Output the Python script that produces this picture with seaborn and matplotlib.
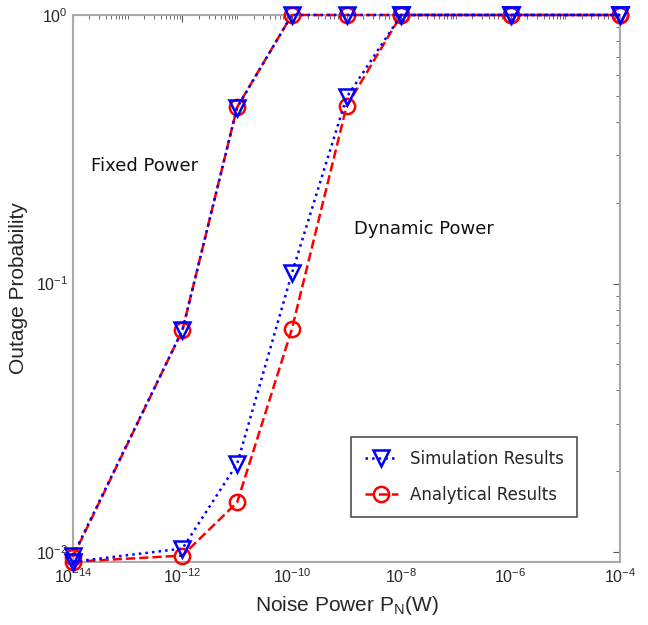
import numpy as np
import pandas as pd
import matplotlib
matplotlib.use("Agg")
import matplotlib.pyplot as plt
import matplotlib.ticker as mticker
from matplotlib.lines import Line2D
import seaborn as sns

# ---- data ----
noise_power = [1e-14, 1e-12, 1e-11, 1e-10, 1e-9, 1e-8, 1e-6, 1e-4]
fixed_sim = [0.0097, 0.067, 0.452, 1.0, 1.0, 1.0, 1.0, 1.0]
fixed_ana = [0.0096, 0.067, 0.454, 1.0, 1.0, 1.0, 1.0, 1.0]
dyn_sim = [0.0092, 0.0103, 0.0213, 0.109, 0.493, 1.0, 1.0, 1.0]
dyn_ana = [0.0092, 0.0097, 0.0153, 0.0675, 0.457, 1.0, 1.0, 1.0]
x_major_ticks = [1e-14, 1e-12, 1e-10, 1e-8, 1e-6, 1e-4]
y_major_ticks = [1e-2, 1e-1, 1e0]

sns.set_style("white")
plt.rcParams['font.family'] = ['Liberation Sans', 'DejaVu Sans']
plt.rcParams['mathtext.default'] = 'regular'
plt.rcParams['axes.unicode_minus'] = False

fig = plt.figure(figsize=(6.48, 6.25), dpi=100)
ax = fig.add_axes([0.1127, 0.1008, 0.8441, 0.8752])

blue = '#0000ff'
red = '#ff0000'
common = dict(ax=ax, linewidth=1.8, markersize=11, markeredgewidth=1.8,
              markerfacecolor='none', legend=False, clip_on=False)

for ys in (fixed_ana, dyn_ana):
    sns.lineplot(x=noise_power, y=ys, color=red, linestyle='--', marker='o',
                 markeredgecolor=red, zorder=3, **common)
for ys in (fixed_sim, dyn_sim):
    sns.lineplot(x=noise_power, y=ys, color=blue, linestyle=':', marker='v',
                 markeredgecolor=blue, zorder=4, **common)

ax.set_xscale('log')
ax.set_yscale('log')
ax.set_xlim(1e-14, 1e-4)
ax.set_ylim(0.00918, 1.0)

ax.xaxis.set_major_locator(mticker.FixedLocator(x_major_ticks))
ax.xaxis.set_minor_locator(mticker.LogLocator(base=10, subs=np.arange(1, 10), numticks=100))
ax.yaxis.set_major_locator(mticker.FixedLocator(y_major_ticks))
ax.yaxis.set_minor_locator(mticker.LogLocator(base=10, subs=np.arange(2, 10), numticks=100))
ax.xaxis.set_major_formatter(mticker.LogFormatterSciNotation())
ax.yaxis.set_major_formatter(mticker.LogFormatterSciNotation())
ax.xaxis.set_minor_formatter(mticker.NullFormatter())
ax.yaxis.set_minor_formatter(mticker.NullFormatter())

ax.tick_params(which='both', direction='in', top=True, right=True,
               colors='#555555', labelcolor='#262626', labelsize=11.5)
ax.tick_params(which='major', length=5, width=0.8)
ax.tick_params(which='minor', length=3, width=0.6)
for s in ax.spines.values():
    s.set_color('#aaaaaa')
    s.set_linewidth(1.5)
    s.set_zorder(1)

ax.set_xlabel('Noise Power P$_\\mathregular{N}$(W)', fontsize=15, color='#262626', labelpad=6)
ax.set_ylabel('Outage Probability', fontsize=15, color='#262626', labelpad=6)

ax.text(0.032, 0.715, 'Fixed Power', transform=ax.transAxes, fontsize=13,
        family='DejaVu Sans', color='#111111')
ax.text(0.513, 0.6, 'Dynamic Power', transform=ax.transAxes, fontsize=13,
        family='DejaVu Sans', color='#111111')

handles = [
    Line2D([], [], color=blue, linestyle=':', marker='v', markersize=11,
           markeredgewidth=1.8, markerfacecolor='none', linewidth=1.8),
    Line2D([], [], color=red, linestyle='--', marker='o', markersize=11,
           markeredgewidth=1.8, markerfacecolor='none', linewidth=1.8),
]
leg = ax.legend(handles, ['Simulation Results', 'Analytical Results'],
                loc='lower right', bbox_to_anchor=(0.921, 0.082),
                prop={'family': 'DejaVu Sans', 'size': 12},
                frameon=True, fancybox=False, edgecolor='#222222',
                handlelength=2.0, handletextpad=0.7, borderpad=0.8,
                labelspacing=1.05, borderaxespad=0)
leg.get_frame().set_linewidth(1.2)
leg.set_zorder(10)

fig.savefig('out.png', dpi=100)
